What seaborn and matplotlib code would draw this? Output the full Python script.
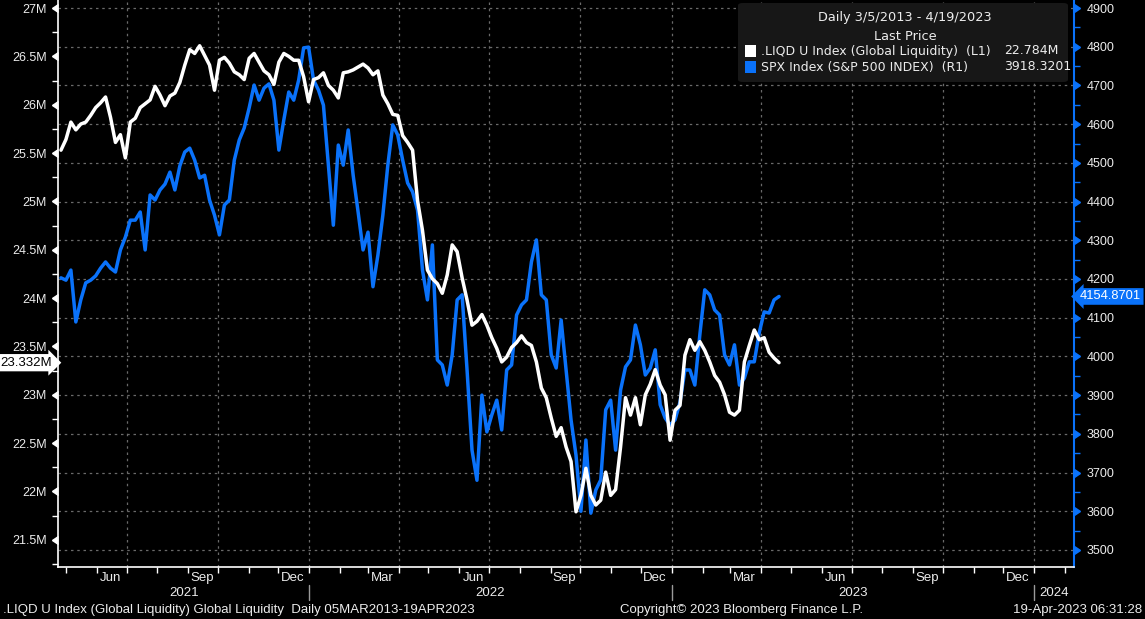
import matplotlib
matplotlib.use('Agg')
import matplotlib.pyplot as plt
import matplotlib.dates as mdates
import matplotlib.markers as mmarkers
import matplotlib.transforms as mtransforms
from matplotlib.patches import FancyBboxPatch, Rectangle
from matplotlib.ticker import FixedLocator, MultipleLocator, NullFormatter, FuncFormatter
import seaborn as sns
import numpy as np
import pandas as pd

# Global liquidity (millions), Apr 2021 -> Apr 2023
liquidity = [
    25.53, 25.64, 25.82, 25.74, 25.80, 25.82, 25.89, 25.97, 26.02, 26.08,
    25.87, 25.61, 25.69, 25.45, 25.82, 25.86, 25.97, 26.01, 26.05, 26.19,
    26.10, 25.99, 26.09, 26.12, 26.23, 26.41, 26.57, 26.53, 26.61, 26.51,
    26.41, 26.15, 26.46, 26.49, 26.43, 26.34, 26.31, 26.26, 26.48, 26.53,
    26.44, 26.35, 26.31, 26.21, 26.44, 26.53, 26.50, 26.46, 26.46, 26.29,
    26.03, 26.26, 26.28, 26.33, 26.20, 26.15, 26.07, 26.33, 26.34, 26.36,
    26.39, 26.42, 26.38, 26.31, 26.35, 26.10, 26.01, 25.90, 25.89, 25.68,
    25.61, 25.53, 25.01, 24.70, 24.29, 24.20, 24.15, 24.05, 24.24, 24.55,
    24.48, 24.21, 23.98, 23.72, 23.76, 23.83, 23.72, 23.59, 23.48, 23.34,
    23.39, 23.49, 23.54, 23.61, 23.54, 23.51, 23.34, 23.07, 22.97, 22.76,
    22.57, 22.66, 22.46, 22.31, 21.79, 21.96, 22.24, 21.96, 21.86, 21.91,
    22.20, 21.96, 22.02, 22.46, 22.97, 22.79, 22.97, 22.69, 23.00, 23.11,
    23.26, 23.10, 23.00, 22.53, 22.84, 22.89, 23.41, 23.57, 23.46, 23.55,
    23.46, 23.34, 23.20, 23.13, 23.00, 22.82, 22.79, 22.84, 23.34, 23.51,
    23.67, 23.57, 23.59, 23.44, 23.38, 23.332,
]

# S&P 500 index level, same dates
spx = [
    4203, 4197, 4223, 4089, 4146, 4190, 4197, 4208, 4228, 4244,
    4228, 4218, 4275, 4308, 4352, 4352, 4373, 4275, 4417, 4404,
    4430, 4445, 4476, 4430, 4492, 4528, 4538, 4507, 4461, 4468,
    4404, 4365, 4314, 4391, 4404, 4507, 4559, 4590, 4642, 4701,
    4662, 4693, 4704, 4662, 4533, 4611, 4683, 4662, 4714, 4797,
    4799, 4714, 4688, 4649, 4494, 4339, 4546, 4494, 4585, 4468,
    4373, 4275, 4321, 4180, 4262, 4365, 4494, 4598, 4572, 4507,
    4448, 4425, 4378, 4223, 4146, 4288, 3991, 3978, 3926, 4004,
    4146, 4159, 3965, 3758, 3680, 3900, 3805, 3849, 3887, 3810,
    3965, 3978, 4107, 4133, 4146, 4244, 4301, 4159, 4146, 4004,
    3970, 4094, 3965, 3836, 3745, 3600, 3784, 3595, 3655, 3681,
    3862, 3887, 3758, 3913, 3973, 3991, 4081, 4030, 3952, 3970,
    4017, 3875, 3841, 3823, 3836, 3882, 3965, 3965, 3926, 4055,
    4172, 4159, 4120, 4107, 4004, 3978, 4030, 3926, 3944, 3986,
    3986, 4061, 4115, 4112, 4146, 4154.8701,
]

dates = pd.date_range('2021-04-26', '2023-04-19', periods=len(liquidity))

legend_title = 'Daily 3/5/2013 - 4/19/2023'
legend_sub = 'Last Price'
legend_names = ['.LIQD U Index (Global Liquidity)  (L1)', 'SPX Index (S&P 500 INDEX)  (R1)']
legend_values = ['22.784M', '3918.3201']
footer_left = '.LIQD U Index (Global Liquidity) Global Liquidity  Daily 05MAR2013-19APR2023'
footer_mid = 'Copyright\u00a9 2023 Bloomberg Finance L.P.'
footer_right = '19-Apr-2023 06:31:28'

BLUE = '#0a72fa'
GRID = '#6a6a6a'
TXT = '#ececec'
NARROW = ['Liberation Sans', 'DejaVu Sans']

sns.set_theme(style='dark', rc={'axes.facecolor': 'black', 'figure.facecolor': 'black'})
plt.rcParams['font.family'] = ['Liberation Sans', 'DejaVu Sans']

W, H = 1145, 619
rect = [58 / W, 52 / H, 1016 / W, 567 / H]
fig = plt.figure(figsize=(W / 100, H / 100), dpi=100)
fig.set_facecolor('black')

xlim = (mdates.date2num(pd.Timestamp('2021-04-23')), mdates.date2num(pd.Timestamp('2024-02-10')))
spx_lim = (3456, 4920.7)
liq_lim = (21.219, 27.083)
quarters = mdates.date2num(pd.date_range('2021-07-01', '2024-01-01', freq='QS'))

# background axes: black panel + dotted grid
bg = fig.add_axes(rect)
bg.set_facecolor('black')
bg.set_ylim(spx_lim)
bg.yaxis.set_major_locator(MultipleLocator(100))
bg.grid(True, color=GRID, linestyle=(0, (2, 3)), linewidth=0.9)
bg.tick_params(left=False, bottom=False, labelbottom=False, labelleft=False)
for s in bg.spines.values():
    s.set_visible(False)

# right axis: S&P 500
ax_r = fig.add_axes(rect, sharex=bg)
ax_r.patch.set_visible(False)
sns.lineplot(x=dates, y=spx, ax=ax_r, color=BLUE, linewidth=2.5)
ax_r.set_ylim(spx_lim)
ax_r.yaxis.tick_right()
ax_r.yaxis.set_major_locator(MultipleLocator(100))
ax_r.yaxis.set_minor_locator(MultipleLocator(50))
ax_r.yaxis.set_major_formatter(FuncFormatter(lambda v, p: f'{v:.0f}'))
ax_r.tick_params(axis='y', which='major', right=True, left=False, length=6, width=1,
                 colors=BLUE, labelcolor=TXT, labelsize=9, pad=3)
ax_r.tick_params(axis='y', which='minor', right=True, left=False, length=4, width=1, colors=BLUE)
for t in ax_r.yaxis.get_major_ticks():
    t.tick2line.set_marker(mmarkers.CARETRIGHTBASE)
ax_r.xaxis.set_visible(False)
for k, s in ax_r.spines.items():
    s.set_visible(k == 'right')
ax_r.spines['right'].set_color(BLUE)
ax_r.spines['right'].set_linewidth(1.5)
ax_r.set_xlabel('')
ax_r.set_ylabel('')

# left axis: global liquidity
ax_l = fig.add_axes(rect, sharex=bg)
ax_l.patch.set_visible(False)
sns.lineplot(x=dates, y=liquidity, ax=ax_l, color='white', linewidth=2.5)
ax_l.set_ylim(liq_lim)
ax_l.set_xlim(xlim)
ax_l.yaxis.set_major_locator(FixedLocator(np.arange(21.5, 27.01, 0.5)))
ax_l.yaxis.set_minor_locator(MultipleLocator(0.25))
ax_l.yaxis.set_major_formatter(FuncFormatter(lambda v, p: f'{v:g}M'))
ax_l.tick_params(axis='y', which='major', left=True, length=6, width=1,
                 colors='white', labelcolor=TXT, labelsize=9, pad=2)
ax_l.tick_params(axis='y', which='minor', left=True, length=4, width=1, colors='white')
for t in ax_l.yaxis.get_major_ticks():
    t.tick1line.set_marker(mmarkers.CARETLEFTBASE)

ax_l.xaxis.set_major_locator(FixedLocator(quarters))
ax_l.xaxis.set_minor_locator(mdates.MonthLocator())
ax_l.xaxis.set_major_formatter(NullFormatter())
ax_l.xaxis.set_minor_formatter(NullFormatter())
ax_l.tick_params(axis='x', which='both', bottom=True, length=4, width=1, colors='white')
for k, s in ax_l.spines.items():
    s.set_visible(k in ('left', 'bottom'))
    s.set_color('white')
    s.set_linewidth(1.2)
ax_l.set_xlabel('')
ax_l.set_ylabel('')

# month / year labels under the axis
xt = ax_l.get_xaxis_transform()
month_pos = pd.date_range('2021-06-01', '2023-12-01', freq='3MS') + pd.Timedelta(days=14)
for d in month_pos:
    ax_l.text(mdates.date2num(d), -0.019, d.strftime('%b'), transform=xt, ha='center', va='center',
              color=TXT, fontsize=9.5, family=NARROW, clip_on=False)
year_edges = [xlim[0]] + [mdates.date2num(pd.Timestamp(f'{y}-01-01')) for y in (2022, 2023, 2024)] + [xlim[1]]
for i, y in enumerate([2021, 2022, 2023, 2024]):
    ax_l.text((year_edges[i] + year_edges[i + 1]) / 2, -0.045, str(y), transform=xt, ha='center',
              va='center', color=TXT, fontsize=9.5, family=NARROW, clip_on=False)
for e in year_edges[1:-1]:
    ax_l.plot([e, e], [-0.032, -0.058], transform=xt, color='#9a9a9a', lw=1, clip_on=False)

# last value tags
ax_l.text(-0.006, liquidity[-1], f'{liquidity[-1]:.3f}M',
          transform=mtransforms.blended_transform_factory(ax_l.transAxes, ax_l.transData),
          ha='right', va='center', fontsize=9.5, color='black', zorder=20, clip_on=False,
          bbox=dict(boxstyle='rarrow,pad=0.2', fc='white', ec='none'))
ax_r.text(1.006, spx[-1], f'{spx[-1]:.4f}',
          transform=mtransforms.blended_transform_factory(ax_r.transAxes, ax_r.transData),
          ha='left', va='center', fontsize=9.3, color='white', zorder=20, clip_on=False,
          bbox=dict(boxstyle='larrow,pad=0.18', fc=BLUE, ec='none'))

# legend box
fig.add_artist(FancyBboxPatch((738 / W, (H - 82) / H), 330 / W, 79 / H,
                              boxstyle='round,pad=0,rounding_size=0.004', transform=fig.transFigure,
                              fc='#171717', ec='none', zorder=10))
fig.text(905 / W, 1 - 18 / H, legend_title, ha='center', va='center', color=TXT,
         fontsize=9.3, family='DejaVu Sans', zorder=11)
fig.text(905 / W, 1 - 36 / H, legend_sub, ha='center', va='center', color=TXT,
         fontsize=9.3, family='DejaVu Sans', zorder=11)
for j, (name, val, col) in enumerate(zip(legend_names, legend_values, ['white', BLUE])):
    yc = 51 + 16 * j
    fig.add_artist(Rectangle((745 / W, (H - yc - 6) / H), 11 / W, 12 / H, transform=fig.transFigure,
                             fc=col, ec='none', zorder=11))
    fig.text(761 / W, 1 - yc / H, name, ha='left', va='center', color=TXT,
             fontsize=9.0, family='DejaVu Sans', zorder=11)
    fig.text(1004 / W, 1 - yc / H, val, ha='left', va='center', color=TXT,
             fontsize=9.0, family='DejaVu Sans', zorder=11)

# footer
fig.text(3 / W, 9 / H, footer_left, ha='left', va='center', color=TXT, fontsize=9.5, family=NARROW)
fig.text(742 / W, 9 / H, footer_mid, ha='center', va='center', color=TXT, fontsize=9.5, family=NARROW)
fig.text(1142 / W, 9 / H, footer_right, ha='right', va='center', color=TXT, fontsize=9.5, family=NARROW)

fig.savefig('out.png', dpi=100, facecolor='black')
